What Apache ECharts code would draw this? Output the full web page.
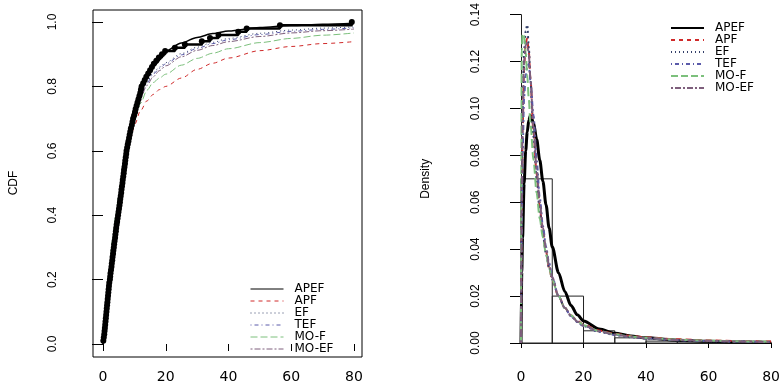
<!DOCTYPE html>
<html><head><meta charset="utf-8">
<script src="https://cdn.jsdelivr.net/npm/echarts@6/dist/echarts.min.js"></script>
<style>html,body{margin:0;padding:0;background:#fff}#c{width:783px;height:384px}</style>
</head><body><div id="c"></div>
<script>
// ---- data ----
const names = ['APEF','APF','EF','TEF','MO-F','MO-EF'];
const colors = ['#000000','#d02a2a','#34406a','#5a5aaa','#7cc07c','#7e5f7c'];
// empirical sample (sorted)
const sample = [0.1,0.25,0.4,0.5,0.6,0.7,0.8,0.9,1.0,1.1,1.2,1.3,1.4,1.5,1.6,1.7,1.8,1.9,2.0,2.2,
 2.3,2.4,2.55,2.7,2.8,2.95,3.05,3.2,3.3,3.45,3.55,3.7,3.85,3.95,4.1,4.2,4.35,4.5,4.65,4.8,
 4.95,5.1,5.25,5.4,5.5,5.65,5.8,5.9,6.05,6.2,6.3,6.45,6.6,6.7,6.85,7.0,7.1,7.25,7.4,7.5,
 7.7,7.9,8.1,8.3,8.5,8.7,8.9,9.2,9.4,9.6,9.9,10.2,10.4,10.7,11.0,11.3,11.6,11.9,12.1,12.3,
 12.8,13.3,13.8,14.4,15.0,15.6,16.2,17.0,17.8,18.8,19.8,22.9,26.1,31.5,34.1,36.8,43.1,45.8,56.4,79.3];
// fitted CDFs
const cdfX = [0,1,2,3,4,5,6,7,8,9,10,12,14,16,18,20,25,30,35,40,50,60,70,80];
const cdfAPEF = [0,0.07,0.18,0.27,0.34,0.42,0.50,0.57,0.63,0.69,0.735,0.795,0.84,0.875,0.895,0.91,0.935,0.952,0.964,0.972,0.983,0.989,0.993,0.996];
const cdfAPF  = [0,0.10,0.21,0.30,0.375,0.445,0.505,0.56,0.605,0.645,0.68,0.725,0.755,0.775,0.79,0.80,0.826,0.853,0.872,0.888,0.911,0.924,0.933,0.939];
const cdfEF   = [0,0.09,0.20,0.29,0.37,0.45,0.52,0.58,0.635,0.68,0.72,0.775,0.815,0.842,0.86,0.874,0.902,0.922,0.937,0.949,0.965,0.975,0.981,0.985];
const cdfTEF  = [0,0.09,0.20,0.29,0.37,0.45,0.52,0.58,0.63,0.675,0.715,0.77,0.81,0.838,0.856,0.87,0.898,0.918,0.933,0.945,0.961,0.971,0.977,0.982];
const cdfMOF  = [0,0.12,0.23,0.32,0.395,0.46,0.52,0.575,0.62,0.66,0.695,0.748,0.788,0.812,0.826,0.838,0.866,0.887,0.903,0.917,0.936,0.949,0.959,0.966];
const cdfMOEF = [0,0.10,0.21,0.30,0.38,0.455,0.52,0.58,0.63,0.672,0.71,0.765,0.803,0.83,0.849,0.864,0.892,0.912,0.927,0.939,0.955,0.966,0.973,0.978];
// fitted densities
const densX = [0,0.25,0.5,1,1.5,2,2.5,3,4,5,6,7,8,9,10,12,14,16,18,20,25,30,35,40,50,60,70,80];
const dAPEF = [0,0.03,0.045,0.068,0.082,0.090,0.095,0.097,0.094,0.087,0.078,0.069,0.059,0.049,0.041,0.030,0.022,0.016,0.012,0.0094,0.0060,0.0042,0.0030,0.0022,0.0012,0.0007,0.0004,0.0003];
const dAPF  = [0,0.06,0.09,0.118,0.128,0.130,0.124,0.113,0.090,0.072,0.058,0.047,0.039,0.032,0.027,0.020,0.015,0.0118,0.0095,0.0078,0.0053,0.0039,0.0030,0.0024,0.0016,0.0011,0.0008,0.0006];
const dEF   = [0,0.07,0.10,0.125,0.133,0.1357,0.126,0.112,0.088,0.070,0.056,0.046,0.038,0.032,0.027,0.020,0.015,0.0115,0.0090,0.0072,0.0048,0.0034,0.0025,0.0019,0.0012,0.0008,0.0006,0.0004];
const dTEF  = [0,0.05,0.08,0.105,0.114,0.118,0.119,0.112,0.097,0.078,0.062,0.050,0.041,0.034,0.028,0.020,0.015,0.0115,0.0090,0.0073,0.0049,0.0035,0.0026,0.0020,0.0012,0.0008,0.0006,0.0004];
const dMOF  = [0,0.125,0.132,0.131,0.124,0.114,0.104,0.094,0.078,0.064,0.053,0.045,0.038,0.032,0.027,0.020,0.015,0.0118,0.0094,0.0076,0.0051,0.0037,0.0028,0.0022,0.0014,0.0010,0.0007,0.0005];
const dMOEF = [0,0.06,0.095,0.120,0.127,0.128,0.123,0.113,0.092,0.074,0.060,0.049,0.040,0.033,0.028,0.020,0.015,0.0116,0.0092,0.0075,0.0050,0.0036,0.0027,0.0021,0.0013,0.0009,0.0006,0.0004];
// histogram
const histBreaks = [0,10,20,30,40,50,60,70,80];
const histDensity = [0.07,0.02,0.0052,0.0022,0.0008,0.0005,0.0003,0.0004];
// ticks
const xTicksL = [0,20,40,60,80];
const yTicksL = [0,0.2,0.4,0.6,0.8,1.0];
const yTicksR = [0,0.02,0.04,0.06,0.08,0.10,0.12,0.14];

// ---- build ----
const cdfs = [cdfAPEF,cdfAPF,cdfEF,cdfTEF,cdfMOF,cdfMOEF];
const dens = [dAPEF,dAPF,dEF,dTEF,dMOF,dMOEF];
const dashL = ['solid',[4,4],[1,3],[1,3,4,3],[7,3],[2,2,6,2]];
const dashR = ['solid',[6,4],[2,3],[2,3,5,3],[9,4],[3,3,8,3]];
const widthL = [1.5,1,1,1,1,1];
const widthR = [3,2,2,2,2,2];
const pair = (xs, ys) => xs.map((x,i)=>[x, ys[i]]);
const n = sample.length;
const ecdf = sample.map((x,i)=>[x,(i+1)/n]);

const FONT = 'Liberation Sans, Arial, sans-serif';
const WIDE = 'DejaVu Sans, sans-serif';

const series = [];
series.push({name:'ECDF', type:'line', xAxisIndex:1, yAxisIndex:1, data:ecdf, step:'end',
  symbol:'circle', symbolSize:6, clip:false, z:3,
  lineStyle:{color:'#000', width:2.5}, itemStyle:{color:'#000'}, emphasis:{disabled:true}});
names.forEach((nm,k)=>{
  series.push({name:nm, type:'line', xAxisIndex:1, yAxisIndex:1, data:pair(cdfX,cdfs[k]),
    symbol:'none', smooth:0.3, smoothMonotone:'x', clip:false, z:(k===0?4:3),
    lineStyle:{color:colors[k], width:widthL[k], type:dashL[k]}, itemStyle:{color:colors[k]},
    emphasis:{disabled:true}});
});
names.forEach((nm,k)=>{
  series.push({name:nm, type:'line', xAxisIndex:2, yAxisIndex:2, data:pair(densX,dens[k]),
    symbol:'none', smooth:0.3, smoothMonotone:'x', clip:false, z:(k===0?3:4),
    lineStyle:{color:colors[k], width:widthR[k], type:dashR[k]}, itemStyle:{color:colors[k]},
    emphasis:{disabled:true}});
});
series.push({name:'hist', type:'custom', xAxisIndex:2, yAxisIndex:2, z:1,
  data: histDensity.map((h,i)=>[histBreaks[i],histBreaks[i+1],h]),
  renderItem:(params, api)=>{
    const p0 = api.coord([api.value(0), api.value(2)]);
    const p1 = api.coord([api.value(1), 0]);
    return {type:'rect', shape:{x:p0[0], y:p0[1], width:p1[0]-p0[0], height:p1[1]-p0[1]},
      style:{fill:'none', stroke:'#222', lineWidth:1}};
  }});

const option = {
  animation:false,
  backgroundColor:'#fff',
  grid:[
    {left:93, right:421, top:10, bottom:27, show:true, borderColor:'#000', borderWidth:1, backgroundColor:'transparent'},
    {left:103, right:429, top:22, bottom:40},
    {left:521, right:10, top:13, bottom:40}
  ],
  xAxis:[
    {gridIndex:0, type:'value', min:0, max:1, show:false},
    {gridIndex:1, type:'value', min:xTicksL[0], max:xTicksL[xTicksL.length-1], interval:20, offset:13,
      axisLine:{show:false}, axisTick:{length:7, lineStyle:{color:'#000'}},
      axisLabel:{margin:13, color:'#000', fontFamily:WIDE, fontSize:14}, splitLine:{show:false}},
    {gridIndex:2, type:'value', min:0, max:80, interval:20, offset:16,
      axisLine:{show:true, lineStyle:{color:'#222'}}, axisTick:{length:5, lineStyle:{color:'#000'}},
      axisLabel:{margin:11, color:'#000', fontFamily:WIDE, fontSize:14}, splitLine:{show:false}}
  ],
  yAxis:[
    {gridIndex:0, type:'value', min:0, max:1, show:false},
    {gridIndex:1, type:'value', min:yTicksL[0], max:yTicksL[yTicksL.length-1], interval:0.2, offset:10,
      name:'CDF', nameLocation:'middle', nameGap:73, nameTextStyle:{fontFamily:FONT, fontSize:12, color:'#000'},
      axisLine:{show:false}, axisTick:{show:true, length:11, lineStyle:{color:'#000'}},
      splitLine:{show:false},
      axisLabel:{margin:34, rotate:90, color:'#000', fontFamily:FONT, fontSize:12, formatter:v=>v.toFixed(1)}},
    {gridIndex:2, type:'value', min:yTicksR[0], max:yTicksR[yTicksR.length-1], interval:0.02, offset:9,
      name:'Density', nameLocation:'middle', nameGap:80, nameTextStyle:{fontFamily:FONT, fontSize:12, color:'#000'},
      axisLine:{show:true, lineStyle:{color:'#222'}}, axisTick:{show:true, length:11, lineStyle:{color:'#000'}},
      splitLine:{show:false},
      axisLabel:{margin:30, rotate:90, color:'#000', fontFamily:FONT, fontSize:12, formatter:v=>v.toFixed(2)}}
  ],
  legend:[
    {data:names, orient:'vertical', left:245, top:278, itemWidth:33, itemHeight:11, itemGap:0,
     selectedMode:false, lineStyle:{width:1}, itemStyle:{opacity:0},
     textStyle:{fontFamily:WIDE, fontSize:12, color:'#000', lineHeight:11, padding:[0,0,0,6]}},
    {data:names, orient:'vertical', left:665, top:17, itemWidth:33, itemHeight:11, itemGap:0,
     selectedMode:false, lineStyle:{width:2}, itemStyle:{opacity:0},
     textStyle:{fontFamily:WIDE, fontSize:12, color:'#000', lineHeight:11, padding:[0,0,0,6]}}
  ],
  series
};
const chart = echarts.init(document.getElementById('c'));
chart.setOption(option);
</script></body></html>
